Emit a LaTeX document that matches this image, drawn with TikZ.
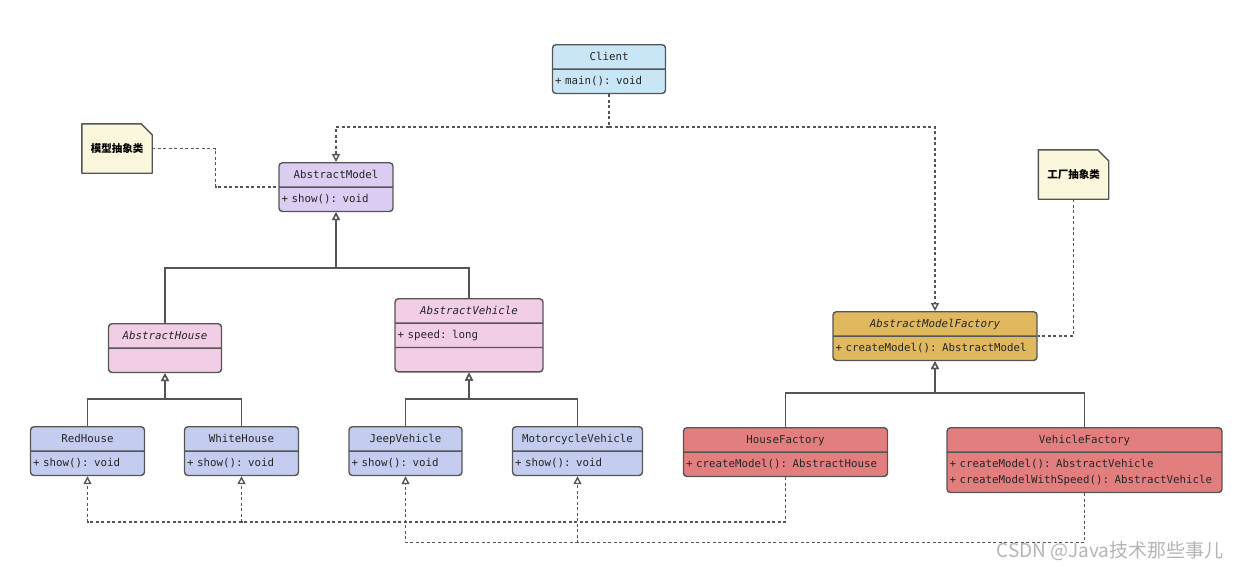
\documentclass[tikz,border=0pt]{standalone}
\usepackage{fontspec}
\setmonofont{DejaVu Sans Mono}
\newfontfamily\cjk{Noto Sans CJK SC}
\usetikzlibrary{arrows.meta,shapes.multipart,backgrounds}
\newcommand\classLineColor{lineGray}
\newcommand\classLineWidth{1.4pt}
\newcommand\classCorner{3.5pt}
\newcommand\linkLineWidth{1.4pt}
\newcommand\noteWidth{70pt}
\newcommand\noteHeight{49pt}
\newcommand\noteFold{11pt}
\newcommand\umlRow[1]{\noindent\strut#1}
\newcommand\umlTitle[1]{\noindent\hfill\strut#1\hfill\null}
\definecolor{lineGray}{HTML}{555555}
\definecolor{clientBlue}{HTML}{C8E6F5}
\definecolor{modelViolet}{HTML}{DCCDF3}
\definecolor{abstractPink}{HTML}{F2CDE6}
\definecolor{productBlue}{HTML}{C4CCEF}
\definecolor{factoryGold}{HTML}{E0B95E}
\definecolor{factoryRed}{HTML}{E37E7E}
\definecolor{noteYellow}{HTML}{FBF7DD}
\definecolor{markGray}{HTML}{B4B4B4}
\tikzset{
    umlclass/.style={draw=\classLineColor, line width=\classLineWidth, rounded corners=\classCorner,
        rectangle split, rectangle split parts=2, inner xsep=2.5pt, inner ysep=3.5pt, anchor=north,
        font=\ttfamily\fontsize{10.8}{16}\selectfont, text=black!85},
    notebox/.style={minimum width=\noteWidth, minimum height=\noteHeight, inner sep=0pt,
        font=\cjk\bfseries\fontsize{10.5}{12}\selectfont},
    notedraw/.style={draw=\classLineColor, line width=\classLineWidth, fill=noteYellow, line join=round},
    extends/.style={draw=\classLineColor, line width=\linkLineWidth, -{Triangle[open,length=8pt,width=8pt]}},
    realizes/.style={extends, dash pattern=on 3pt off 2.5pt},
    noteline/.style={draw=\classLineColor, line width=\linkLineWidth, dash pattern=on 3pt off 2.5pt}
}
\begin{document}
\begin{tikzpicture}[x=1pt, y=-1pt]
    \useasboundingbox (0,0) rectangle (1240,571);

    % classes, placed by their top middle point
    \node [umlclass, fill=clientBlue, text width=108pt] (Client) at (609,44)
        {\umlTitle{Client}\nodepart{second}\umlRow{+ main(): void}};
    \node [umlclass, fill=modelViolet, text width=109pt] (AbstractModel) at (336,162)
        {\umlTitle{AbstractModel}\nodepart{second}\umlRow{+ show(): void}};
    \node [umlclass, fill=abstractPink, text width=108pt] (AbstractHouse) at (165,323)
        {\umlTitle{\itshape AbstractHouse}\nodepart{second}\umlRow{}};
    \node [umlclass, fill=abstractPink, text width=143pt, rectangle split parts=3] (AbstractVehicle) at (469,298)
        {\umlTitle{\itshape AbstractVehicle}\nodepart{second}\umlRow{+ speed: long}\nodepart{third}\umlRow{}};
    \node [umlclass, fill=productBlue, text width=109pt] (RedHouse) at (87.5,426)
        {\umlTitle{RedHouse}\nodepart{second}\umlRow{+ show(): void}};
    \node [umlclass, fill=productBlue, text width=109pt] (WhiteHouse) at (241.5,426)
        {\umlTitle{WhiteHouse}\nodepart{second}\umlRow{+ show(): void}};
    \node [umlclass, fill=productBlue, text width=108pt] (JeepVehicle) at (405.5,426)
        {\umlTitle{JeepVehicle}\nodepart{second}\umlRow{+ show(): void}};
    \node [umlclass, fill=productBlue, text width=125pt] (MotorcycleVehicle) at (577.5,426)
        {\umlTitle{MotorcycleVehicle}\nodepart{second}\umlRow{+ show(): void}};
    \node [umlclass, fill=factoryGold, text width=199pt] (AbstractModelFactory) at (935,311)
        {\umlTitle{\itshape AbstractModelFactory}\nodepart{second}\umlRow{+ createModel(): AbstractModel}};
    \node [umlclass, fill=factoryRed, text width=199pt] (HouseFactory) at (785.5,427)
        {\umlTitle{HouseFactory}\nodepart{second}\umlRow{+ createModel(): AbstractHouse}};
    \node [umlclass, fill=factoryRed, text width=270pt] (VehicleFactory) at (1084.5,427)
        {\umlTitle{VehicleFactory}\nodepart{second}\umlRow{+ createModel(): AbstractVehicle}\par
         \umlRow{+ createModelWithSpeed(): AbstractVehicle}};

    % notes, the folded paper is drawn behind the text
    \node [notebox] (noteModel) at (117,148.5) {模型抽象类};
    \node [notebox] (noteFactory) at (1073.5,174.5) {工厂抽象类};
    \begin{scope}[on background layer]
        \foreach \n in {noteModel,noteFactory}{
            \draw [notedraw] (\n.south west) -- (\n.north west) -- ([xshift=-\noteFold]\n.north east)
                -- ([yshift=-\noteFold]\n.north east) -- (\n.south east) -- cycle;
        }
    \end{scope}

    % bends of the connectors
    \coordinate (busModel) at (336,268);
    \coordinate (busHouse) at (165,399);
    \coordinate (busVehicle) at (469,399);
    \coordinate (busFactory) at (935,393);
    \coordinate (busClient) at (609,127);
    \coordinate (busHouseFactory) at (785.5,522);
    \coordinate (busVehicleFactory) at (1084.5,542.5);
    \coordinate (bendNoteModel) at (215.5,148.5);

    \draw [extends] (AbstractHouse.north) |- (busModel) -- (AbstractModel.south);
    \draw [extends] (AbstractVehicle.north) |- (busModel) -- (AbstractModel.south);
    \foreach \c in {RedHouse,WhiteHouse}{
        \draw [extends] (\c.north) |- (busHouse) -- (AbstractHouse.south);
    }
    \foreach \c in {JeepVehicle,MotorcycleVehicle}{
        \draw [extends] (\c.north) |- (busVehicle) -- (AbstractVehicle.south);
    }
    \foreach \c in {HouseFactory,VehicleFactory}{
        \draw [extends] (\c.north) |- (busFactory) -- (AbstractModelFactory.south);
    }

    \foreach \c in {AbstractModel,AbstractModelFactory}{
        \draw [realizes] (Client.south) -- (busClient) -| (\c.north);
    }
    \foreach \c in {RedHouse,WhiteHouse}{
        \draw [realizes] (HouseFactory.south) -- (busHouseFactory) -| (\c.south);
    }
    \foreach \c in {JeepVehicle,MotorcycleVehicle}{
        \draw [realizes] (VehicleFactory.south) -- (busVehicleFactory) -| (\c.south);
    }

    \draw [noteline] (noteModel.east) -- (bendNoteModel) |- (AbstractModel.west);
    \draw [noteline] (noteFactory.south) |- (AbstractModelFactory.east);

    \node [text=markGray, font=\cjk\fontsize{19}{22}\selectfont, anchor=east] (watermark) at (1227,551) {CSDN @Java技术那些事儿};

\end{tikzpicture}
\end{document}
